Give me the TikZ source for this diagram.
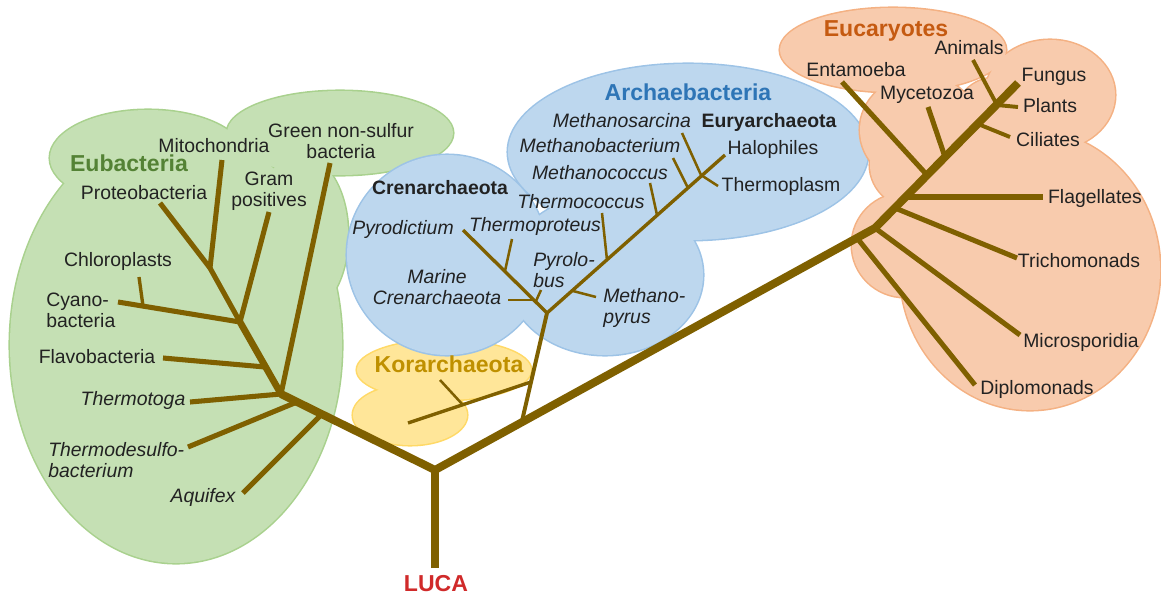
\documentclass[tikz,border=0pt]{standalone}
\usepackage{fontspec}
\setmainfont{Liberation Sans}

\definecolor{branchc}{HTML}{7F6000}
\definecolor{eubfill}{HTML}{C5E0B4}
\definecolor{eubedge}{HTML}{A9D18E}
\definecolor{eubtext}{HTML}{548235}
\definecolor{arcfill}{HTML}{BDD7EE}
\definecolor{arcedge}{HTML}{9DC3E6}
\definecolor{arctext}{HTML}{2E75B6}
\definecolor{korfill}{HTML}{FFE699}
\definecolor{koredge}{HTML}{FFD966}
\definecolor{kortext}{HTML}{BF9000}
\definecolor{eukfill}{HTML}{F8CBAD}
\definecolor{eukedge}{HTML}{F4B183}
\definecolor{euktext}{HTML}{C55A11}
\definecolor{lucatext}{HTML}{D02A2A}
\definecolor{labeltext}{HTML}{222222}

\newcommand{\lblfont}{\fontsize{13.8}{15}\selectfont}
\newcommand{\ttlfont}{\fontsize{16.4}{18}\selectfont\bfseries}

% blob parts: centre x / centre y / x radius / y radius
\newcommand{\eubparts}{176/345/166/218, 148/158/98/48, 340/133/113/42, 300/235/48/80}
\newcommand{\korparts}{444/370/87/30, 410/415/57/30}
\newcommand{\arcparts}{447/255/100/100, 605/275/98/80, 688/152/180/88}
\newcommand{\eukparts}{1030/270/130/140, 1050/95/65/55, 893/50/113/42, 920/130/60/55, 920/165/50/45, 905/245/53/52, 995/118/40/40}

\tikzset{
  blobedge/.style={draw=#1, line width=2.2pt},
  trunk/.style={draw=branchc, line width=5.7pt, line join=round},
  limb/.style={draw=branchc, line width=4.8pt, line cap=round},
  branch/.style={draw=branchc, line width=3.6pt},
  shoot/.style={draw=branchc, line width=2.8pt},
  twig/.style={draw=branchc, line width=2.4pt},
  sprig/.style={draw=branchc, line width=1.8pt},
  lbl/.style={font=\lblfont, text=labeltext, inner sep=0pt},
  oneline/.style={text height=1.5ex, text depth=.25ex},
  tag/.style={lbl, oneline},
  itag/.style={lbl, oneline, font=\lblfont\itshape},
  btag/.style={lbl, oneline, font=\lblfont\bfseries},
  ttl/.style={font=\ttlfont, inner sep=0pt, text height=1.5ex, text depth=.25ex, text=#1},
}

\begin{document}
\begin{tikzpicture}[x=0.025cm, y=-0.025cm]
  \useasboundingbox (0,0) rectangle (1161,599);

  % groups
  \foreach \cx/\cy/\rx/\ry in \eubparts
    \draw[blobedge=eubedge] (\cx,\cy) ellipse ({\rx} and {\ry});
  \foreach \cx/\cy/\rx/\ry in \eubparts
    \fill[eubfill] (\cx,\cy) ellipse ({\rx} and {\ry});
  \foreach \cx/\cy/\rx/\ry in \korparts
    \draw[blobedge=koredge] (\cx,\cy) ellipse ({\rx} and {\ry});
  \foreach \cx/\cy/\rx/\ry in \korparts
    \fill[korfill] (\cx,\cy) ellipse ({\rx} and {\ry});
  \foreach \cx/\cy/\rx/\ry in \arcparts
    \draw[blobedge=arcedge] (\cx,\cy) ellipse ({\rx} and {\ry});
  \foreach \cx/\cy/\rx/\ry in \arcparts
    \fill[arcfill] (\cx,\cy) ellipse ({\rx} and {\ry});
  \foreach \cx/\cy/\rx/\ry in \eukparts
    \draw[blobedge=eukedge] (\cx,\cy) ellipse ({\rx} and {\ry});
  \foreach \cx/\cy/\rx/\ry in \eukparts
    \fill[eukfill] (\cx,\cy) ellipse ({\rx} and {\ry});

  % tree points
  \coordinate (luca) at (435,568);
  \coordinate (root) at (435,470);
  \coordinate (eu) at (281,394);
  \coordinate (euDs) at (297,402);
  \coordinate (euAq) at (322,414);
  \coordinate (euFl) at (265,367);
  \coordinate (euCy) at (240,322);
  \coordinate (euMi) at (210,268);
  \coordinate (euCh) at (143,306);
  \coordinate (proteoT) at (160,203);
  \coordinate (mitoT) at (222,160);
  \coordinate (gnsT) at (330,163);
  \coordinate (gramT) at (269,212);
  \coordinate (chloroT) at (139,277);
  \coordinate (cyanoT) at (118,302);
  \coordinate (flavoT) at (163,358);
  \coordinate (thermotogaT) at (190,402);
  \coordinate (desulfoT) at (188,447);
  \coordinate (aquifexT) at (243,493);

  \coordinate (arB) at (522,421);
  \coordinate (arK) at (531,382);
  \coordinate (ar) at (547,313);
  \coordinate (korJ) at (463,405);
  \coordinate (korT) at (408,423);
  \coordinate (korS) at (440,380);
  \coordinate (crTp) at (505,271);
  \coordinate (crMa) at (533,300);
  \coordinate (crPy) at (536,301);
  \coordinate (pyrodT) at (463,230);
  \coordinate (thprotT) at (512,239);
  \coordinate (marineT) at (508,300);
  \coordinate (pyroloT) at (541,290);
  \coordinate (eyMp) at (573,291);
  \coordinate (eyTc) at (607,260);
  \coordinate (eyMc) at (657,215);
  \coordinate (eyMb) at (688,188);
  \coordinate (eyMs) at (701,175);
  \coordinate (haloT) at (725,155);
  \coordinate (mpyrusT) at (596,297);
  \coordinate (tcoccusT) at (602,213);
  \coordinate (mcoccusT) at (650,183);
  \coordinate (mbactT) at (673,158);
  \coordinate (msarcT) at (682,133);
  \coordinate (tplasmT) at (718,186);

  \coordinate (ekk) at (875,228);
  \coordinate (ekDi) at (857,238);
  \coordinate (ekTr) at (895,208);
  \coordinate (ekFl) at (906,197);
  \coordinate (ekEn) at (927,175);
  \coordinate (ekMy) at (945,157);
  \coordinate (ekCi) at (978,124);
  \coordinate (ekAn) at (997,105);
  \coordinate (fungusT) at (1018,83);
  \coordinate (diploT) at (975,385);
  \coordinate (microT) at (1020,335);
  \coordinate (trichoT) at (1017,258);
  \coordinate (flagT) at (1043,197);
  \coordinate (entaT) at (842,82);
  \coordinate (mycetoT) at (928,107);
  \coordinate (ciliT) at (1010,137);
  \coordinate (animT) at (973,60);
  \coordinate (plantT) at (1018,107);

  % main stem
  \draw[trunk] (luca) -- (root);
  \draw[trunk] (eu) -- (root) -- (ekk) -- (fungusT);

  % Eubacteria
  \draw[limb] (eu) -- (euCy);
  \draw[branch, line cap=round] (euCy) -- (euMi);
  \draw[branch] (euMi) -- (proteoT);
  \draw[branch] (euMi) -- (mitoT);
  \draw[branch] (eu) -- (gnsT);
  \draw[branch] (euCy) -- (gramT);
  \draw[branch] (euCy) -- (cyanoT);
  \draw[twig] (euCh) -- (chloroT);
  \draw[branch] (euFl) -- (flavoT);
  \draw[branch] (eu) -- (thermotogaT);
  \draw[branch] (euDs) -- (desulfoT);
  \draw[branch] (euAq) -- (aquifexT);

  % Archaebacteria
  \draw[shoot] (arB) -- (ar);
  \draw[twig] (arK) -- (korT);
  \draw[sprig] (korJ) -- (korS);
  \draw[twig] (ar) -- (pyrodT);
  \draw[twig] (ar) -- (haloT);
  \draw[sprig] (crTp) -- (thprotT);
  \draw[sprig] (crMa) -- (marineT);
  \draw[sprig] (crPy) -- (pyroloT);
  \draw[sprig] (eyMp) -- (mpyrusT);
  \draw[sprig] (eyTc) -- (tcoccusT);
  \draw[sprig] (eyMc) -- (mcoccusT);
  \draw[sprig] (eyMb) -- (mbactT);
  \draw[sprig] (eyMs) -- (msarcT);
  \draw[sprig] (eyMs) -- (tplasmT);

  % Eucaryotes
  \draw[branch] (ekDi) -- (diploT);
  \draw[branch] (ekk) -- (microT);
  \draw[branch] (ekTr) -- (trichoT);
  \draw[branch] (ekFl) -- (flagT);
  \draw[branch] (ekEn) -- (entaT);
  \draw[branch] (ekMy) -- (mycetoT);
  \draw[shoot] (ekCi) -- (ciliT);
  \draw[shoot] (ekAn) -- (animT);
  \draw[shoot] (ekAn) -- (plantT);

  % labels
  \node[ttl=lucatext] (lucaL) at (436,587) {LUCA};

  \node[ttl=eubtext] (eubL) at (129,167) {Eubacteria};
  \node[tag] (mitoL) at (214,148) {Mitochondria};
  \node[lbl, align=center] (gnsL) at (341,141) {Green non-sulfur\\bacteria};
  \node[lbl, align=center] (gramL) at (269,191) {Gram\\positives};
  \node[tag] (proteoL) at (144,195) {Proteobacteria};
  \node[tag] (chloroL) at (118,262) {Chloroplasts};
  \node[lbl, align=left, anchor=west] (cyanoL) at (46,310) {Cyano-\\bacteria};
  \node[tag] (flavoL) at (97,359) {Flavobacteria};
  \node[itag] (thermotogaL) at (133,401) {Thermotoga};
  \node[lbl, font=\lblfont\itshape, align=left, anchor=west] (desulfoL) at (48,460) {Thermodesulfo-\\bacterium};
  \node[itag] (aquifexL) at (203,498) {Aquifex};

  \node[ttl=arctext] (arcL) at (688,96) {Archaebacteria};
  \node[btag] (euryL) at (769,123) {Euryarchaeota};
  \node[itag] (msarcL) at (622,123) {Methanosarcina};
  \node[itag] (mbactL) at (600,148) {Methanobacterium};
  \node[tag] (haloL) at (773,150) {Halophiles};
  \node[itag] (mcoccusL) at (600,175) {Methanococcus};
  \node[tag] (tplasmL) at (781,187) {Thermoplasm};
  \node[itag] (tcoccusL) at (581,204) {Thermococcus};
  \node[btag] (crenL) at (440,190) {Crenarchaeota};
  \node[itag] (pyrodL) at (403,230) {Pyrodictium};
  \node[itag] (thprotL) at (535,227) {Thermoproteus};
  \node[lbl, font=\lblfont\itshape, align=left, anchor=west] (pyroloL) at (533,270) {Pyrolo-\\bus};
  \node[lbl, font=\lblfont\itshape, align=center] (marineL) at (437,287) {Marine\\Crenarchaeota};
  \node[lbl, font=\lblfont\itshape, align=left, anchor=west] (mpyrusL) at (603,308) {Methano-\\pyrus};
  \node[ttl=kortext] (korL) at (449,368) {Korarchaeota};

  \node[ttl=euktext] (eukL) at (886,32) {Eucaryotes};
  \node[tag] (animL) at (969,50) {Animals};
  \node[tag] (entaL) at (856,72) {Entamoeba};
  \node[tag] (fungusL) at (1054,77) {Fungus};
  \node[tag] (mycetoL) at (927,95) {Mycetozoa};
  \node[tag] (plantL) at (1050,108) {Plants};
  \node[tag] (ciliL) at (1048,142) {Ciliates};
  \node[tag] (flagL) at (1095,199) {Flagellates};
  \node[tag] (trichoL) at (1079,263) {Trichomonads};
  \node[tag] (microL) at (1081,343) {Microsporidia};
  \node[tag] (diploL) at (1037,390) {Diplomonads};
\end{tikzpicture}
\end{document}
